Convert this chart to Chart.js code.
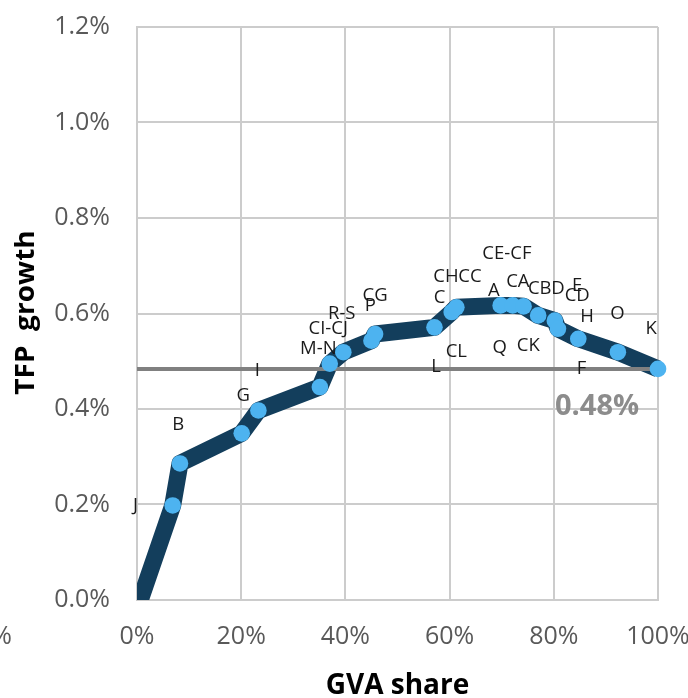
<!DOCTYPE html>
<html>
<head>
<meta charset="utf-8">
<script src="https://cdn.jsdelivr.net/npm/chart.js@4.4.1/dist/chart.umd.min.js"></script>
<style>
  html, body { margin: 0; padding: 0; background: #ffffff; }
  canvas { display: block; }
</style>
</head>
<body>
<canvas id="chart" width="688" height="698"></canvas>
<script>
// Cumulative GVA share (%) and TFP growth (%) along the sector curve
const gvaShare  = [0, 6.85, 8.25, 20.1, 23.3, 35.1, 37.0, 39.6, 45.0, 45.7, 57.1, 60.4, 61.3, 69.8, 72.1, 74.2, 77.0, 80.2, 80.8, 84.7, 92.3, 100];
const tfpGrowth = [-0.02, 0.198, 0.286, 0.349, 0.397, 0.446, 0.495, 0.519, 0.543, 0.557, 0.571, 0.603, 0.613, 0.617, 0.617, 0.615, 0.596, 0.585, 0.568, 0.547, 0.519, 0.484];

// Economy-wide average TFP growth (%)
const averageTfp = 0.484;
const averageText = '0.48%';

// Sector code labels and where they sit, in axis units
const sectorCodes = ['J', 'B', 'G', 'I', 'M-N', 'CI-CJ', 'R-S', 'P', 'CG', 'C', 'CH', 'CC', 'L', 'CL', 'CE-CF', 'A', 'Q', 'CA', 'CK', 'CB', 'D', 'E', 'CD', 'H', 'F', 'O', 'K'];
const codeX = [-0.3, 7.9, 20.4, 23.1, 34.8, 36.7, 39.3, 44.8, 45.7, 58.1, 59.3, 63.9, 57.4, 61.3, 71.0, 68.5, 69.6, 73.1, 75.1, 77.3, 80.8, 84.5, 84.5, 86.4, 85.3, 92.2, 98.7];
const codeY = [0.198, 0.368, 0.428, 0.481, 0.526, 0.568, 0.599, 0.617, 0.638, 0.634, 0.676, 0.676, 0.488, 0.519, 0.725, 0.648, 0.529, 0.666, 0.533, 0.652, 0.652, 0.659, 0.638, 0.594, 0.484, 0.599, 0.568];

// Axis ticks
const xTickValues = [0, 20, 40, 60, 80, 100];
const xTickLabels = ['0%', '20%', '40%', '60%', '80%', '100%'];
const yTickValues = [0, 0.2, 0.4, 0.6, 0.8, 1.0, 1.2];
const yTickLabels = ['0.0%', '0.2%', '0.4%', '0.6%', '0.8%', '1.0%', '1.2%'];
const xTitle = 'GVA share';
const yTitle = 'TFP  growth';

const curvePoints = gvaShare.map((x, i) => ({ x: x, y: tfpGrowth[i] }));
const averagePoints = [{ x: 0, y: averageTfp }, { x: 100, y: averageTfp }];

const FONT = '"Open Sans", "Noto Sans", sans-serif';

function drawText(ctx, text, x, y, opts) {
  ctx.save();
  ctx.translate(x, y);
  if (opts.rotate) ctx.rotate(opts.rotate);
  ctx.scale(opts.sx || 1, 1);
  ctx.font = opts.font;
  ctx.fillStyle = opts.color;
  ctx.textAlign = opts.align || 'center';
  ctx.textBaseline = 'middle';
  ctx.fillText(text, 0, 0);
  ctx.restore();
}

const textLayer = {
  id: 'textLayer',
  afterDraw(chart) {
    const ctx = chart.ctx;
    const xs = chart.scales.x;
    const ys = chart.scales.y;
    const area = chart.chartArea;

    // tick labels
    const tickFont = '25px ' + FONT;
    yTickValues.forEach((v, i) => {
      drawText(ctx, yTickLabels[i], area.left - 27, ys.getPixelForValue(v),
        { font: tickFont, color: '#595959', align: 'right' });
    });
    xTickValues.forEach((v, i) => {
      drawText(ctx, xTickLabels[i], xs.getPixelForValue(v), area.bottom + 37,
        { font: tickFont, color: '#595959', align: 'center' });
    });
    // clipped tick label fragment at the far left edge
    drawText(ctx, '%', 12, area.bottom + 37,
      { font: tickFont, color: '#595959', align: 'right' });

    // axis titles
    drawText(ctx, xTitle, (area.left + area.right) / 2, 686,
      { font: 'bold 28px ' + FONT, color: '#000000' });
    drawText(ctx, yTitle, 26.5, 312.5,
      { font: 'bold 27px ' + FONT, color: '#000000', rotate: -Math.PI / 2, sx: 1.04 });

    // sector code labels
    sectorCodes.forEach((code, i) => {
      drawText(ctx, code, xs.getPixelForValue(codeX[i]), ys.getPixelForValue(codeY[i]),
        { font: '18.5px ' + FONT, color: '#1a1a1a' });
    });

    // average value label
    drawText(ctx, averageText, xs.getPixelForValue(88.3), ys.getPixelForValue(averageTfp) + 37.5,
      { font: 'bold 29px ' + FONT, color: '#8c8c8c' });
  }
};

new Chart(document.getElementById('chart'), {
  type: 'scatter',
  data: {
    datasets: [
      {
        label: 'sectors',
        data: curvePoints,
        showLine: false,
        pointRadius: 8.3,
        pointHoverRadius: 8.3,
        pointBackgroundColor: '#4db3f0',
        pointBorderWidth: 0,
        clip: { left: 0, top: 0, right: 12, bottom: 0 }
      },
      {
        label: 'average',
        data: averagePoints,
        showLine: true,
        borderColor: '#808080',
        borderWidth: 4,
        pointRadius: 0
      },
      {
        label: 'curve',
        data: curvePoints,
        showLine: true,
        borderColor: '#133e5c',
        borderWidth: 17,
        borderJoinStyle: 'round',
        pointRadius: 0,
        clip: { left: 0, top: 0, right: 12, bottom: 0 }
      }
    ]
  },
  options: {
    responsive: false,
    devicePixelRatio: 1,
    animation: false,
    events: [],
    layout: { padding: { top: 27, right: 30, left: 0, bottom: 0 } },
    plugins: { legend: { display: false }, tooltip: { enabled: false } },
    scales: {
      x: {
        type: 'linear',
        min: 0,
        max: 100,
        afterBuildTicks(scale) { scale.ticks = xTickValues.map(v => ({ value: v })); },
        afterFit(scale) { scale.height = 98; scale.paddingLeft = 0; scale.paddingRight = 0; },
        ticks: { display: false },
        grid: { color: '#cccccc', lineWidth: 2, drawTicks: false },
        border: { color: '#cccccc', width: 2 }
      },
      y: {
        type: 'linear',
        min: 0,
        max: 1.2,
        afterBuildTicks(scale) { scale.ticks = yTickValues.map(v => ({ value: v })); },
        afterFit(scale) { scale.width = 137; scale.paddingTop = 0; scale.paddingBottom = 0; },
        ticks: { display: false },
        grid: { color: '#cccccc', lineWidth: 2, drawTicks: false },
        border: { color: '#cccccc', width: 2 }
      }
    }
  },
  plugins: [textLayer]
});
</script>
</body>
</html>
